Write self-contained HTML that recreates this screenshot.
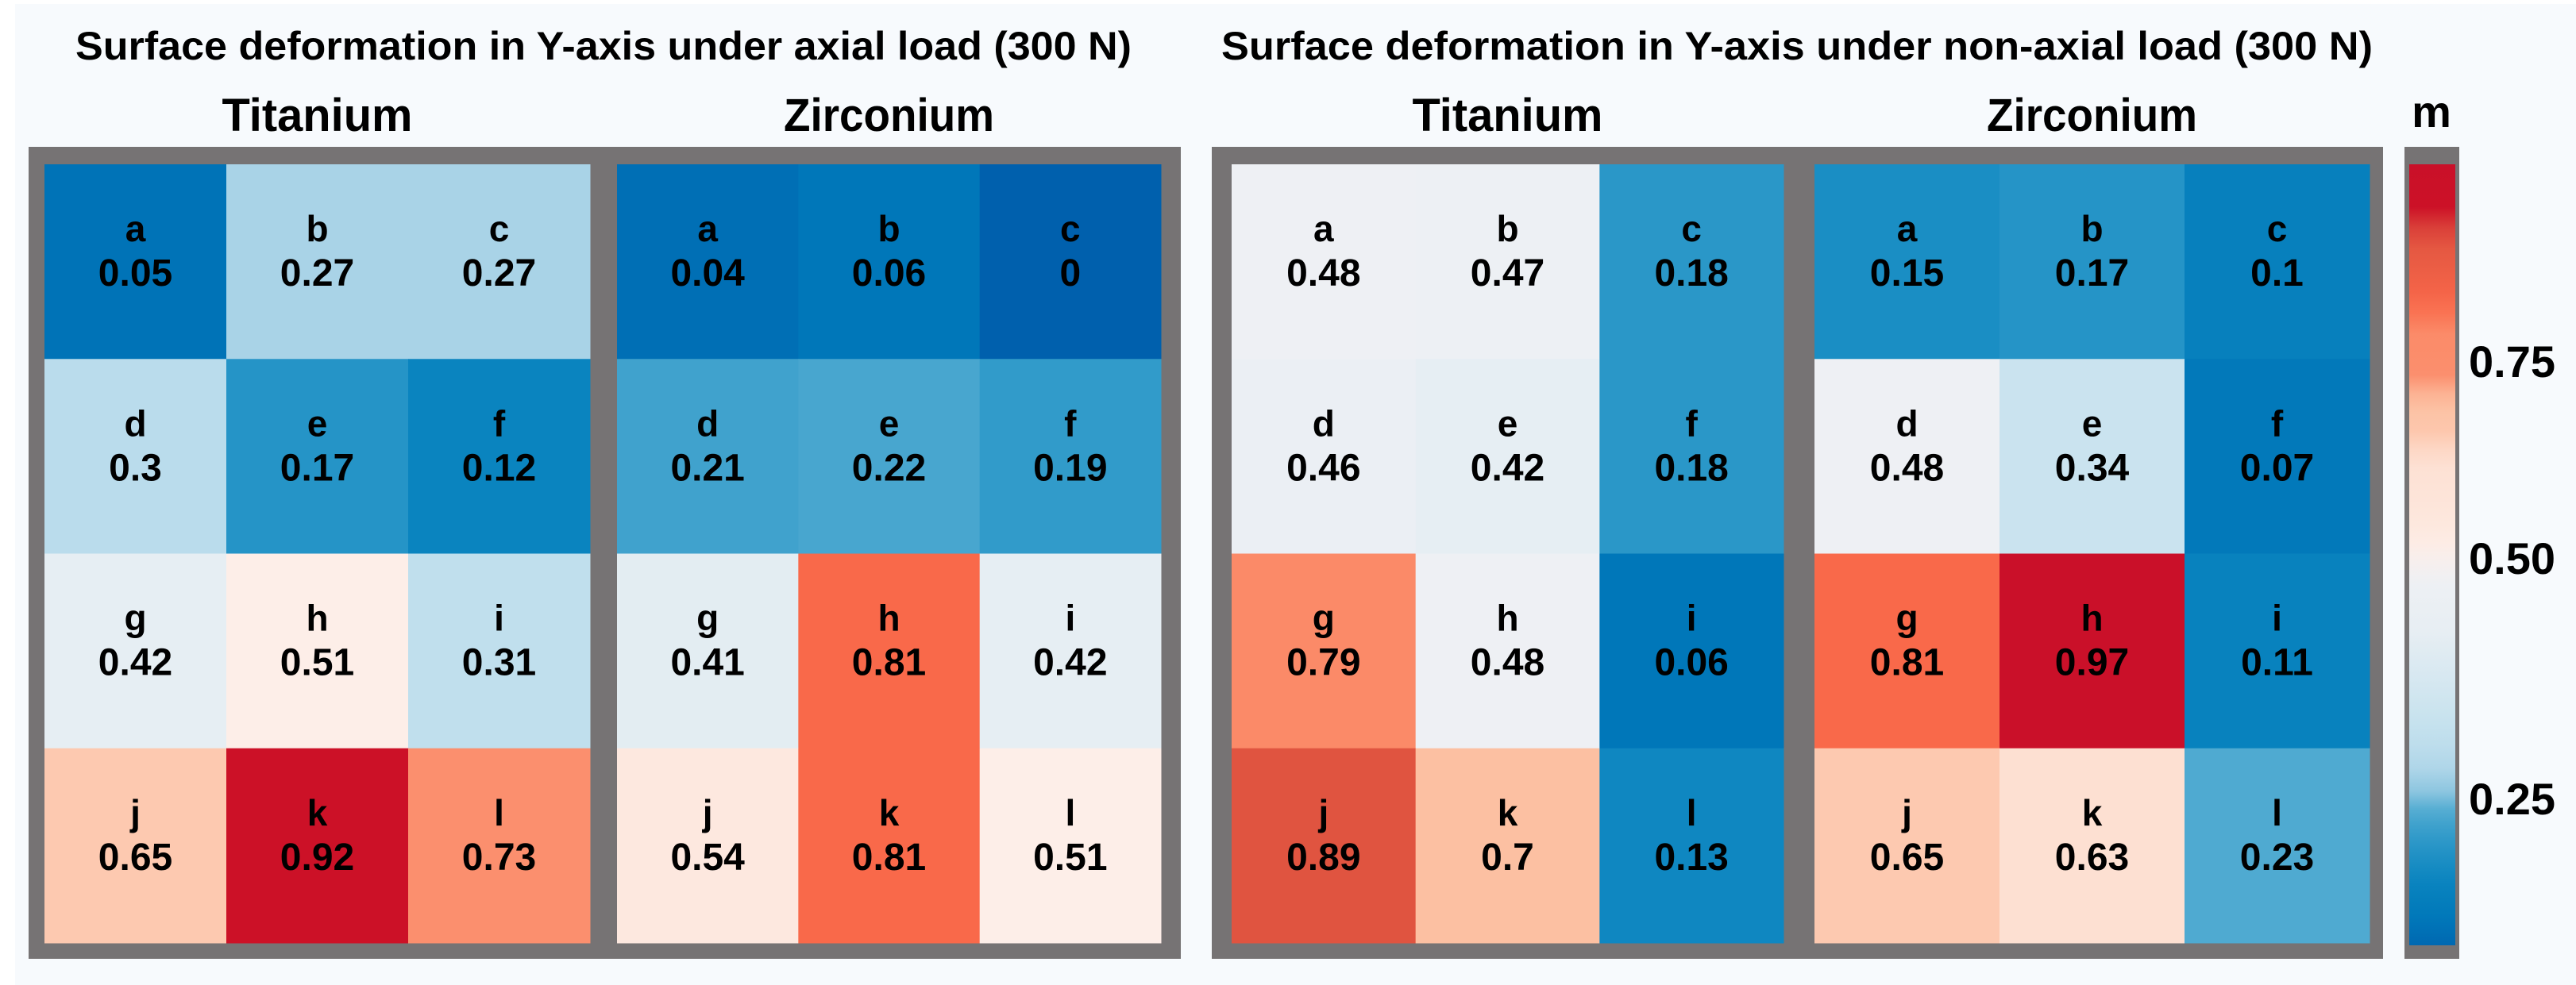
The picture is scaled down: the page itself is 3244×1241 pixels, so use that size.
<!DOCTYPE html>
<html><head><meta charset="utf-8"><style>
html,body{margin:0;padding:0;background:#fff;}
svg{display:block;font-family:"Liberation Sans",Arial,sans-serif;font-weight:bold;}
</style></head><body>
<svg id="chart" width="3244" height="1241" viewBox="0 0 3244 1241" xmlns="http://www.w3.org/2000/svg">
<rect x="19" y="5" width="3225" height="1236" fill="#f7fafd"/>
<text x="95" y="75" font-size="50" textLength="1330" lengthAdjust="spacingAndGlyphs">Surface deformation in Y-axis under axial load (300 N)</text>
<text x="1538" y="75" font-size="50" textLength="1450" lengthAdjust="spacingAndGlyphs">Surface deformation in Y-axis under non-axial load (300 N)</text>
<g id="panels"></g>
<g id="colorbar"></g>
</svg>
<script>
const labels = ["a","b","c","d","e","f","g","h","i","j","k","l"];
const axialTitanium = [0.05,0.27,0.27,0.3,0.17,0.12,0.42,0.51,0.31,0.65,0.92,0.73];
const axialZirconium = [0.04,0.06,0,0.21,0.22,0.19,0.41,0.81,0.42,0.54,0.81,0.51];
const nonAxialTitanium = [0.48,0.47,0.18,0.46,0.42,0.18,0.79,0.48,0.06,0.89,0.7,0.13];
const nonAxialZirconium = [0.15,0.17,0.1,0.48,0.34,0.07,0.81,0.97,0.11,0.65,0.63,0.23];
const tickValues = [0.25,0.5,0.75];
const tickLabels = ["0.25","0.50","0.75"];

const NS="http://www.w3.org/2000/svg";
function mk(tag, attrs, parent){const e=document.createElementNS(NS,tag);for(const k in attrs)e.setAttribute(k,attrs[k]);parent.appendChild(e);return e;}
const stops=[[0,"#0060ad"],[0.06,"#0077b9"],[0.12,"#0a84bf"],[0.18,"#2a97c8"],[0.23,"#4faad1"],[0.27,"#a9d3e7"],[0.31,"#c0dfed"],[0.42,"#e6eef3"],[0.48,"#eef0f4"],[0.51,"#fdeee8"],[0.55,"#fde6dc"],[0.63,"#fde0d2"],[0.65,"#fdc9b0"],[0.70,"#fcc0a2"],[0.73,"#fb8f6e"],[0.79,"#fb8a68"],[0.81,"#f9694a"],[0.89,"#e05440"],[0.92,"#cc1127"],[1,"#c8102a"]];
function hex(h){return [1,3,5].map(i=>parseInt(h.substr(i,2),16));}
function color(v){
  for(let i=1;i<stops.length;i++){if(v<=stops[i][0]){const a=stops[i-1],b=stops[i];const t=(v-a[0])/(b[0]-a[0]||1);const ca=hex(a[1]),cb=hex(b[1]);return "rgb("+ca.map((c,j)=>Math.round(c+(cb[j]-c)*t)).join(",")+")";}}
  return stops[stops.length-1][1];
}
const panelsG=document.getElementById("panels");
const ROW_TOP=207, ROW_BOT=1188, NROWS=4;
const rowH=(ROW_BOT-ROW_TOP)/NROWS;
function drawPanel(frameX0, frameX1, subs, name){
  const f=mk("rect",{x:frameX0,y:185,width:frameX1-frameX0,height:1208-185,fill:"#767374"},panelsG);
  
  
  subs.forEach(s=>{
    const g=mk("g",{},panelsG);
    
    
    const t=mk("text",{x:(s.x0+s.x1)/2,y:165,"font-size":58,"text-anchor":"middle",textLength:s.tw,lengthAdjust:"spacingAndGlyphs"},g);
    t.textContent=s.title;
    
    
    const cw=(s.x1-s.x0)/3;
    s.vals.forEach((v,i)=>{
      const c=i%3, r=Math.floor(i/3);
      const x=s.x0+c*cw, y=ROW_TOP+r*rowH;
      const rc=mk("rect",{x:x,y:y,width:cw+0.5,height:rowH+0.5,fill:color(v)},g);
      
      
      const l=mk("text",{x:x+cw/2,y:y+97,"font-size":46,"text-anchor":"middle"},g);
      l.textContent=labels[i];
      
      
      const n=mk("text",{x:x+cw/2,y:y+153,"font-size":48,"text-anchor":"middle"},g);
      n.textContent=String(v);
      
      
    });
  });
}
drawPanel(36,1487,[
  {x0:56,x1:743,title:"Titanium",tw:240,vals:axialTitanium,name:"axial-titanium-grid"},
  {x0:777,x1:1462,title:"Zirconium",tw:265,vals:axialZirconium,name:"axial-zirconium-grid"}],"axial-panel");
drawPanel(1526,3001,[
  {x0:1551,x1:2246,title:"Titanium",tw:240,vals:nonAxialTitanium,name:"non-axial-titanium-grid"},
  {x0:2285,x1:2984,title:"Zirconium",tw:265,vals:nonAxialZirconium,name:"non-axial-zirconium-grid"}],"non-axial-panel");

// colorbar
const cb=document.getElementById("colorbar");
const cbTop=207, cbBot=1191;
// piecewise axis: value -> y (reference bar is slightly non-linear)
const axV=[0.02,0.25,0.5,0.75,0.97], axY=[cbBot,1006,703,455,cbTop];
function yOf(v){for(let i=1;i<axV.length;i++){if(v<=axV[i]||i==axV.length-1){const t=(v-axV[i-1])/(axV[i]-axV[i-1]);return axY[i-1]+t*(axY[i]-axY[i-1]);}}}
const defs=mk("defs",{},cb);
const grad=mk("linearGradient",{id:"cbg",x1:0,y1:0,x2:0,y2:1},defs);
for(let k=0;k<=40;k++){const v=0.97-k*(0.95/40);const off=(yOf(v)-cbTop)/(cbBot-cbTop);mk("stop",{offset:Math.max(0,Math.min(1,off)),"stop-color":color(v)},grad);}
const cf=mk("rect",{x:3028,y:185,width:69,height:1023,fill:"#767374"},cb);


const cr=mk("rect",{x:3034,y:cbTop,width:58,height:cbBot-cbTop,fill:"url(#cbg)"},cb);


const mt=mk("text",{x:3062,y:160,"font-size":56,"text-anchor":"middle"},cb);
mt.textContent="m";


tickValues.forEach((v,i)=>{
  const t=mk("text",{x:3109,y:yOf(v)+20,"font-size":56},cb);
  t.textContent=tickLabels[i];
  
  
});
</script>
</body></html>
